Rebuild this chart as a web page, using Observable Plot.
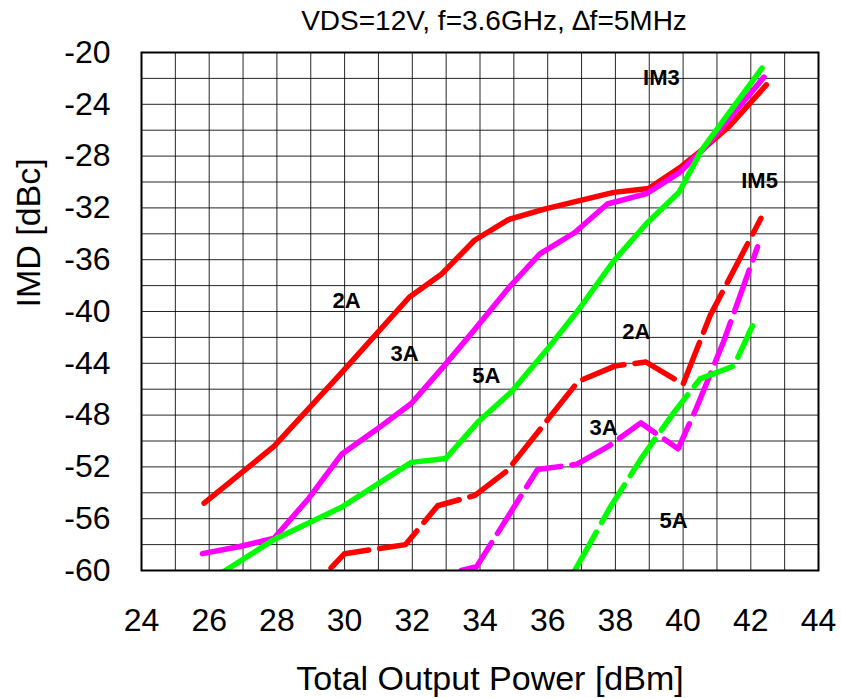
<!DOCTYPE html>
<html>
<head>
<meta charset="utf-8">
<script src="https://cdn.jsdelivr.net/npm/d3@7"></script>
<script src="https://cdn.jsdelivr.net/npm/@observablehq/plot@0.6"></script>
<style>
  html, body { margin: 0; padding: 0; background: #fff; }
  #chart { width: 841px; height: 698px; }
</style>
</head>
<body>
<div id="chart"></div>
<script>
// ---- data ----
const titleText = "VDS=12V, f=3.6GHz, \u2206f=5MHz";
const xLabel = "Total Output Power [dBm]";
const yLabel = "IMD [dBc]";
const xTicks = [24, 26, 28, 30, 32, 34, 36, 38, 40, 42, 44];
const yTicks = [-20, -24, -28, -32, -36, -40, -44, -48, -52, -56, -60];
const xGrid = d3.range(24, 45, 1);
const yGrid = d3.range(-20, -61, -2);

// IM3 (solid)
const im3_2A = [[25.85,-54.8],[27.92,-50.4],[29.92,-44.7],[31.91,-38.9],[32.87,-37.1],[33.84,-34.5],[34.84,-32.9],[35.9,-32.1],[37.95,-30.8],[38.98,-30.5],[39.95,-28.8],[40.66,-27.3],[41.36,-25.7],[42.46,-22.5]];
const im3_3A = [[25.8,-58.7],[26.9,-58.15],[27.92,-57.5],[28.95,-54.4],[29.92,-51.0],[30.95,-49.1],[31.97,-47.1],[32.94,-44.2],[33.84,-41.4],[34.87,-38.1],[35.77,-35.55],[36.8,-33.9],[37.76,-31.7],[38.92,-30.9],[39.88,-29.3],[40.66,-27.3],[42.39,-21.9]];
const im3_5A = [[26.0,-60.8],[27.92,-57.6],[29.92,-55.1],[31.97,-51.65],[32.99,-51.35],[33.97,-48.45],[34.93,-46.2],[35.96,-43.0],[36.93,-39.8],[37.95,-36.1],[38.92,-33.2],[39.88,-30.8],[40.53,-27.6],[42.33,-21.2]];

// IM5 (dashed)
const im5_2A = [[29.6,-59.8],[30.0,-58.7],[31.8,-58.0],[32.75,-55.0],[33.85,-54.2],[34.8,-52.3],[36.9,-45.4],[38.0,-44.2],[38.9,-43.9],[40.0,-45.6],[40.8,-40.3],[42.3,-32.8]];
const im5_3A = [[33.45,-60.0],[33.9,-59.7],[35.7,-52.2],[36.85,-51.8],[37.8,-50.4],[38.75,-48.6],[39.85,-50.6],[40.37,-47.6],[41.2,-42.3],[42.2,-35.0]];
const im5_5A = [[36.8,-60.0],[37.85,-55.1],[38.8,-51.2],[39.7,-47.9],[40.5,-45.2],[41.5,-44.2],[42.05,-41.1]];

const seriesColors = {"2A": "#ff0000", "3A": "#ff00ff", "5A": "#00ff00"};

// annotation labels
const labels = [
  {x: 30.06, y: -39.15, t: "2A"},
  {x: 31.77, y: -43.24, t: "3A"},
  {x: 34.19, y: -44.94, t: "5A"},
  {x: 39.36, y: -22.0, t: "IM3"},
  {x: 42.26, y: -29.9, t: "IM5"},
  {x: 38.62, y: -41.6, t: "2A"},
  {x: 37.65, y: -49.0, t: "3A"},
  {x: 39.72, y: -56.2, t: "5A"}
];

// ---- build ----
const toRows = (arr) => arr.map(([x, y]) => ({x, y}));
const font = "'Liberation Sans', Arial, Helvetica, sans-serif";
const lw = 5.5;

const solid = (arr, c) => Plot.line(toRows(arr), {x: "x", y: "y", stroke: c, strokeWidth: lw, strokeLinejoin: "round", clip: true});
const dashed = (arr, c) => Plot.line(toRows(arr), {x: "x", y: "y", stroke: c, strokeWidth: lw, strokeLinejoin: "round", strokeDasharray: "44,11", clip: true});

const chart = Plot.plot({
  width: 841,
  height: 698,
  marginLeft: 141,
  marginRight: 23,
  marginTop: 52,
  marginBottom: 128,
  style: {fontFamily: font, background: "#fff", color: "#000"},
  x: {domain: [24, 44], ticks: xTicks, label: null},
  y: {domain: [-60, -20], ticks: yTicks, label: null},
  marks: [
    Plot.ruleX(xGrid, {stroke: "#000", strokeWidth: 1, strokeOpacity: 0.85}),
    Plot.ruleY(yGrid, {stroke: "#000", strokeWidth: 1, strokeOpacity: 0.85}),
    Plot.axisX({ticks: xTicks, tickSize: 0, tickPadding: 38, fontSize: 32, label: null, tickFormat: d => String(d)}),
    Plot.axisY({ticks: yTicks, tickSize: 0, tickPadding: 31, fontSize: 32, label: null, tickFormat: d => String(d)}),
    solid(im3_2A, seriesColors["2A"]),
    solid(im3_3A, seriesColors["3A"]),
    solid(im3_5A, seriesColors["5A"]),
    dashed(im5_2A, seriesColors["2A"]),
    dashed(im5_3A, seriesColors["3A"]),
    dashed(im5_5A, seriesColors["5A"]),
    Plot.text(labels, {x: "x", y: "y", text: "t", fontSize: 22, fontWeight: "bold", fill: "#000"}),
    Plot.frame({stroke: "#000", strokeWidth: 2}),
    Plot.text([titleText], {frameAnchor: "top", dx: 14, dy: -42, fontSize: 28, fill: "#000"}),
    Plot.text([xLabel], {frameAnchor: "bottom", dx: 10, dy: 119, fontSize: 34, fill: "#000"}),
    Plot.text([yLabel], {frameAnchor: "left", dx: -112, dy: -4, rotate: -90, fontSize: 34, fill: "#000"})
  ]
});
document.getElementById("chart").appendChild(chart);
</script>
</body>
</html>
